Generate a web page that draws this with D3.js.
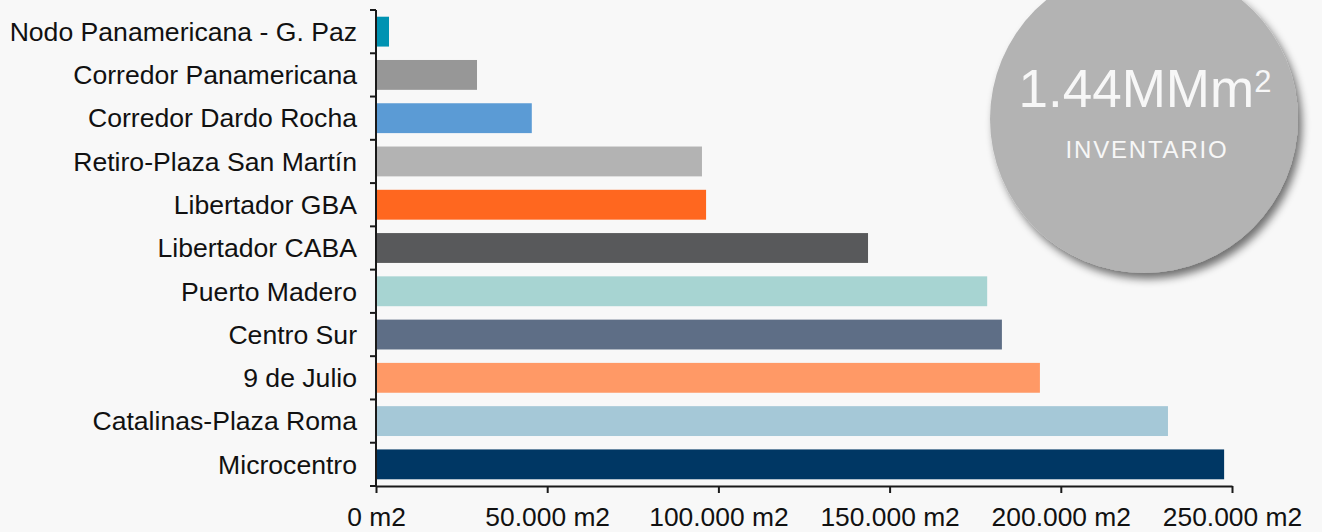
<!DOCTYPE html>
<html>
<head>
<meta charset="utf-8">
<script src="https://cdn.jsdelivr.net/npm/d3@7"></script>
<style>
  html, body { margin: 0; padding: 0; background: #f8f8f8; }
  svg { display: block; }
  text { font-family: "Liberation Sans", Arial, sans-serif; }
</style>
</head>
<body>
<svg id="chart" width="1322" height="532"></svg>
<script>
const categories = [
  "Nodo Panamericana - G. Paz",
  "Corredor Panamericana",
  "Corredor Dardo Rocha",
  "Retiro-Plaza San Martín",
  "Libertador GBA",
  "Libertador CABA",
  "Puerto Madero",
  "Centro Sur",
  "9 de Julio",
  "Catalinas-Plaza Roma",
  "Microcentro"
];
const values = [3800, 29500, 45500, 95200, 96400, 143700, 178500, 182800, 193900, 231300, 247700];
const colors = ["#0093b2", "#979797", "#5b9bd5", "#b3b3b3", "#ff671f", "#58595b",
                "#a7d4d2", "#5e6e86", "#ff9966", "#a5c8d7", "#003764"];
const xTicks = [0, 50000, 100000, 150000, 200000, 250000];
const xTickLabels = ["0 m2", "50.000 m2", "100.000 m2", "150.000 m2", "200.000 m2", "250.000 m2"];
const badgeValue = "1.44MMm";
const badgeSup = "2";
const badgeLabel = "INVENTARIO";

const svg = d3.select("#chart");
const mLeft = 376, mRight = 1232, mTop = 10, mBottom = 486;

const x = d3.scaleLinear().domain([0, 250000]).range([mLeft, mRight]);
const y = d3.scaleBand().domain(categories).range([mTop, mBottom]).paddingInner(0.31).paddingOuter(0.155);

// bars
svg.append("g").selectAll("rect")
  .data(values)
  .join("rect")
  .attr("x", x(0) + 1)
  .attr("y", (d, i) => y(categories[i]))
  .attr("width", d => x(d) - x(0) - 1)
  .attr("height", y.bandwidth())
  .attr("fill", (d, i) => colors[i]);

// y axis
const yBand = d3.scaleBand().domain(categories).range([mTop, mBottom]);
const yAxisG = svg.append("g").attr("transform", `translate(${mLeft},0)`);
yAxisG.append("line").attr("x1", 0).attr("x2", 0).attr("y1", mTop).attr("y2", mBottom)
  .attr("stroke", "#1a1a1a").attr("stroke-width", 2);
const yEdges = categories.map(c => yBand(c)).concat([mBottom]);
yAxisG.selectAll("line.tk").data(yEdges).join("line").attr("class", "tk")
  .attr("x1", -6).attr("x2", 0).attr("y1", d => d).attr("y2", d => d)
  .attr("stroke", "#1a1a1a").attr("stroke-width", 2);
yAxisG.selectAll("text").data(categories).join("text")
  .attr("x", -19)
  .attr("y", c => yBand(c) + yBand.bandwidth() / 2)
  .attr("dy", "0.35em")
  .attr("text-anchor", "end")
  .attr("font-size", 26.6)
  .attr("fill", "#111")
  .text(d => d);

// x axis
const xAxisG = svg.append("g").attr("transform", `translate(0,${mBottom})`);
xAxisG.call(d3.axisBottom(x).tickValues(xTicks).tickSize(7).tickSizeOuter(0)
  .tickFormat((d, i) => xTickLabels[i]));
xAxisG.select(".domain").attr("stroke", "#1a1a1a").attr("stroke-width", 2);
xAxisG.selectAll(".tick line").attr("stroke", "#1a1a1a").attr("stroke-width", 2);
xAxisG.selectAll(".tick text")
  .attr("font-family", "Liberation Sans, Arial, sans-serif")
  .attr("font-size", 26.4).attr("fill", "#111").attr("y", 21).attr("dy", "0.71em");

// badge circle with shadow
const defs = svg.append("defs");
const f = defs.append("filter").attr("id", "shadow").attr("x", "-20%").attr("y", "-20%").attr("width", "140%").attr("height", "140%");
f.append("feGaussianBlur").attr("in", "SourceAlpha").attr("stdDeviation", 4).attr("result", "blur");
f.append("feOffset").attr("in", "blur").attr("dx", 4).attr("dy", 6).attr("result", "off");
f.append("feComponentTransfer").attr("in", "off").attr("result", "off2")
  .append("feFuncA").attr("type", "linear").attr("slope", 0.55);
const mg = f.append("feMerge");
mg.append("feMergeNode").attr("in", "off2");
mg.append("feMergeNode").attr("in", "SourceGraphic");

const cx = 1144, cy = 119, r = 154;
svg.append("circle").attr("cx", cx).attr("cy", cy).attr("r", r)
  .attr("fill", "#b3b3b3").attr("filter", "url(#shadow)");

const t1 = svg.append("text").attr("x", cx + 1).attr("y", 107).attr("text-anchor", "middle")
  .attr("font-size", 53).attr("fill", "#f7f7f7");
t1.append("tspan").text(badgeValue);
t1.append("tspan").attr("font-size", 31).attr("dy", -15).text(badgeSup);

svg.append("text").attr("x", cx + 3).attr("y", 158).attr("text-anchor", "middle")
  .attr("font-size", 24).attr("fill", "#f7f7f7").attr("letter-spacing", 1.8)
  .text(badgeLabel);
</script>
</body>
</html>
